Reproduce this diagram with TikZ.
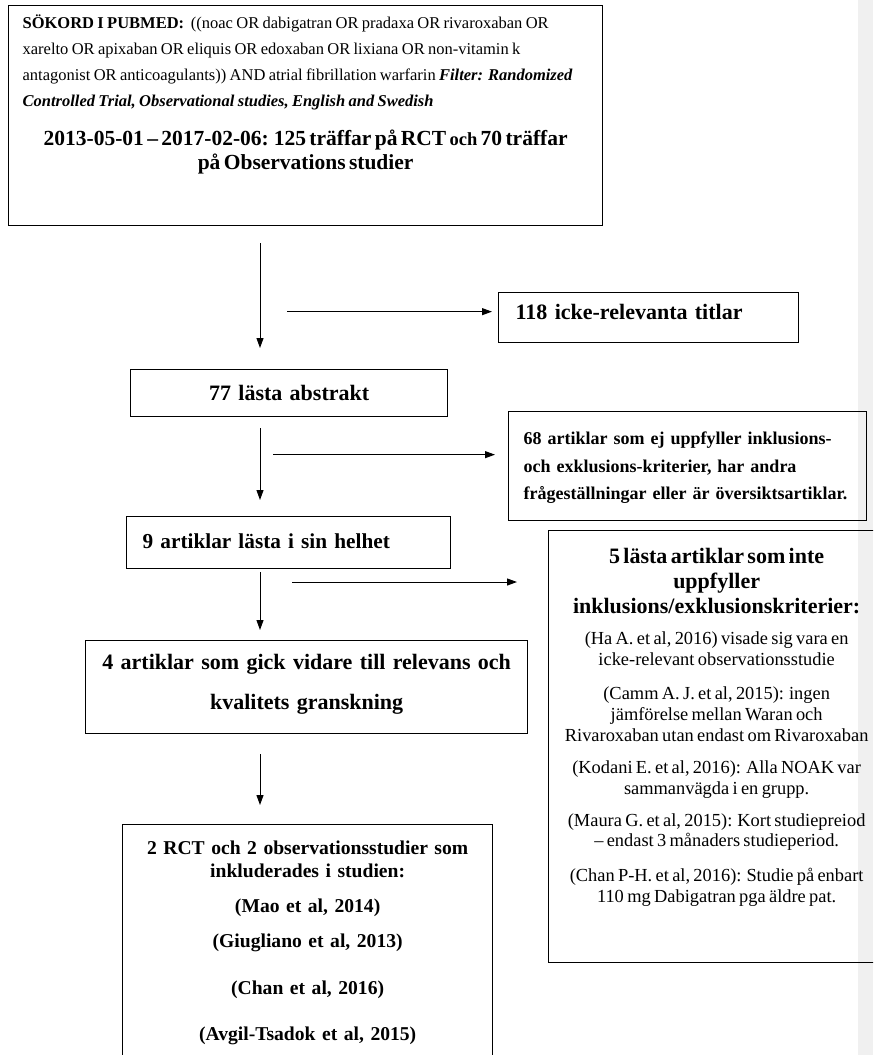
\documentclass[tikz,border=0pt]{standalone}
\usepackage{fontspec}
\setmainfont{Liberation Serif}
\usetikzlibrary{positioning,calc,arrows.meta}
\definecolor{margingray}{HTML}{F0F0F0}

\begin{document}
\begin{tikzpicture}[
        x=1pt, y=-1pt,
        box/.style={rectangle, draw, line width=1.3pt, inner ysep=0pt, anchor=north west},
        arrow/.style={-{Triangle[length=10pt, width=7pt]}, line width=1pt}
    ]
        \useasboundingbox (0,0) rectangle (873,1055);
        \clip (0,0) rectangle (873,1055);

        % Page margin
        \fill[margingray] (858,0) rectangle (873,1055);

        % Search
        \node[box, inner xsep=14pt, text width=566pt, align=left,
              text height=22.5pt, text depth=197.5pt] (search) at (8,5) {
            {\fontsize{16.5}{26}\selectfont
            \textbf{SÖKORD I PUBMED:}\ \ ((noac OR dabigatran OR pradaxa OR rivaroxaban OR\\
            xarelto OR apixaban OR eliquis OR edoxaban OR lixiana OR non-vitamin k\\
            antagonist OR anticoagulants)) AND atrial fibrillation warfarin \textbf{\textit{Filter: Randomized}}\\
            \textbf{\textit{Controlled Trial, Observational studies, English and Swedish}}\par}
            \vspace{15.5pt}
            {\fontsize{21.5}{24}\selectfont\bfseries
            \makebox[\linewidth]{2013-05-01 – 2017-02-06: 125 träffar på RCT {\fontsize{18.5}{24}\selectfont och} 70 träffar}\\
            \makebox[\linewidth]{på Observations studier}\par}
        };

        % Titles
        \node[box, inner xsep=17pt, text width=266pt, align=left,
              text height=26.5pt, text depth=23.5pt, font=\fontsize{22}{25}\selectfont\bfseries] (irrel) at (498,292) {
            118 icke-relevanta titlar
        };

        % Abstracts
        \node[box, inner xsep=8pt, text width=301pt, align=center,
              text height=31pt, text depth=16pt, font=\fontsize{22}{25}\selectfont\bfseries] (abstr) at (130,369) {
            77 lästa abstrakt
        };

        \node[box, inner xsep=15pt, text width=328pt, align=left,
              text height=33pt, text depth=76pt, font=\fontsize{18}{27.5}\selectfont\bfseries] (excl) at (508,411) {
            68 artiklar som ej uppfyller inklusions-\\
            och exklusions-kriterier, har andra\\
            \mbox{frågeställningar eller är översiktsartiklar.}
        };

        % Full text
        \node[box, inner xsep=16pt, text width=292pt, align=left,
              text height=32pt, text depth=20pt, font=\fontsize{21.3}{25}\selectfont\bfseries] (nine) at (126,516) {
            9 artiklar lästa i sin helhet
        };

        \node[box, inner xsep=8pt, text width=320pt, align=center,
              text height=33pt, text depth=399pt] (notincl) at (548,530) {
            {\fontsize{22}{25}\selectfont\bfseries
            5 lästa artiklar som inte\\ uppfyller\\ inklusions/exklusionskriterier:\par}
            \vspace{10.5pt}
            {\fontsize{18.4}{20.8}\selectfont
            (Ha A. et al, 2016) visade sig vara en\\ icke-relevant observationsstudie\par
            \vspace{13pt}
            (Camm A. J. et al, 2015): ingen\\ jämförelse mellan Waran och\\ Rivaroxaban utan endast om Rivaroxaban\par
            \vspace{12pt}
            (Kodani E. et al, 2016): Alla NOAK var\\ sammanvägda i en grupp.\par
            \vspace{10.5pt}
            (Maura G. et al, 2015): Kort studiepreiod\\ – endast 3 månaders studieperiod.\par
            \vspace{14pt}
            (Chan P-H. et al, 2016): Studie på enbart\\ 110 mg Dabigatran pga äldre pat.\par}
        };

        % Quality review
        \node[box, inner xsep=8pt, text width=426pt, align=center,
              text height=29pt, text depth=64pt, font=\fontsize{22}{40}\selectfont\bfseries] (four) at (85,640) {
            4 artiklar som gick vidare till relevans och\\
            kvalitets granskning
        };

        % Included
        \node[box, inner xsep=15pt, text width=340pt, align=center,
              text height=30pt, text depth=216pt, font=\fontsize{19.6}{23}\selectfont\bfseries] (incl) at (122,824) {
            2 RCT och 2 observationsstudier som\\
            inkluderades i studien:\\[12pt]
            (Mao et al, 2014)\\[12pt]
            (Giugliano et al, 2013)\\[24pt]
            (Chan et al, 2016)\\[23pt]
            (Avgil-Tsadok et al, 2015)
        };

        % Arrows
        \coordinate (spine) at (260,0);
        \draw[arrow, shorten <=17pt, shorten >=21pt] (search.south -| spine) -- (abstr.north -| spine);
        \draw[arrow, shorten <=11pt, shorten >=16pt] (abstr.south -| spine) -- (nine.north -| spine);
        \draw[arrow, shorten <=3pt, shorten >=10pt] (nine.south -| spine) -- (four.north -| spine);
        \draw[arrow, shorten <=20pt, shorten >=19pt] (four.south -| spine) -- (incl.north -| spine);

        \draw[arrow] ($(irrel.west -| spine)+(27,-6)$) -- ($(irrel.west)+(-6,-6)$);
        \draw[arrow] ($(excl.west -| spine)+(13,-11.5)$) -- ($(excl.west)+(-13,-11.5)$);
        \draw[arrow] ($(notincl.north west -| spine)+(32,52)$) -- ($(notincl.north west)+(-31,52)$);
    \end{tikzpicture}
\end{document}
